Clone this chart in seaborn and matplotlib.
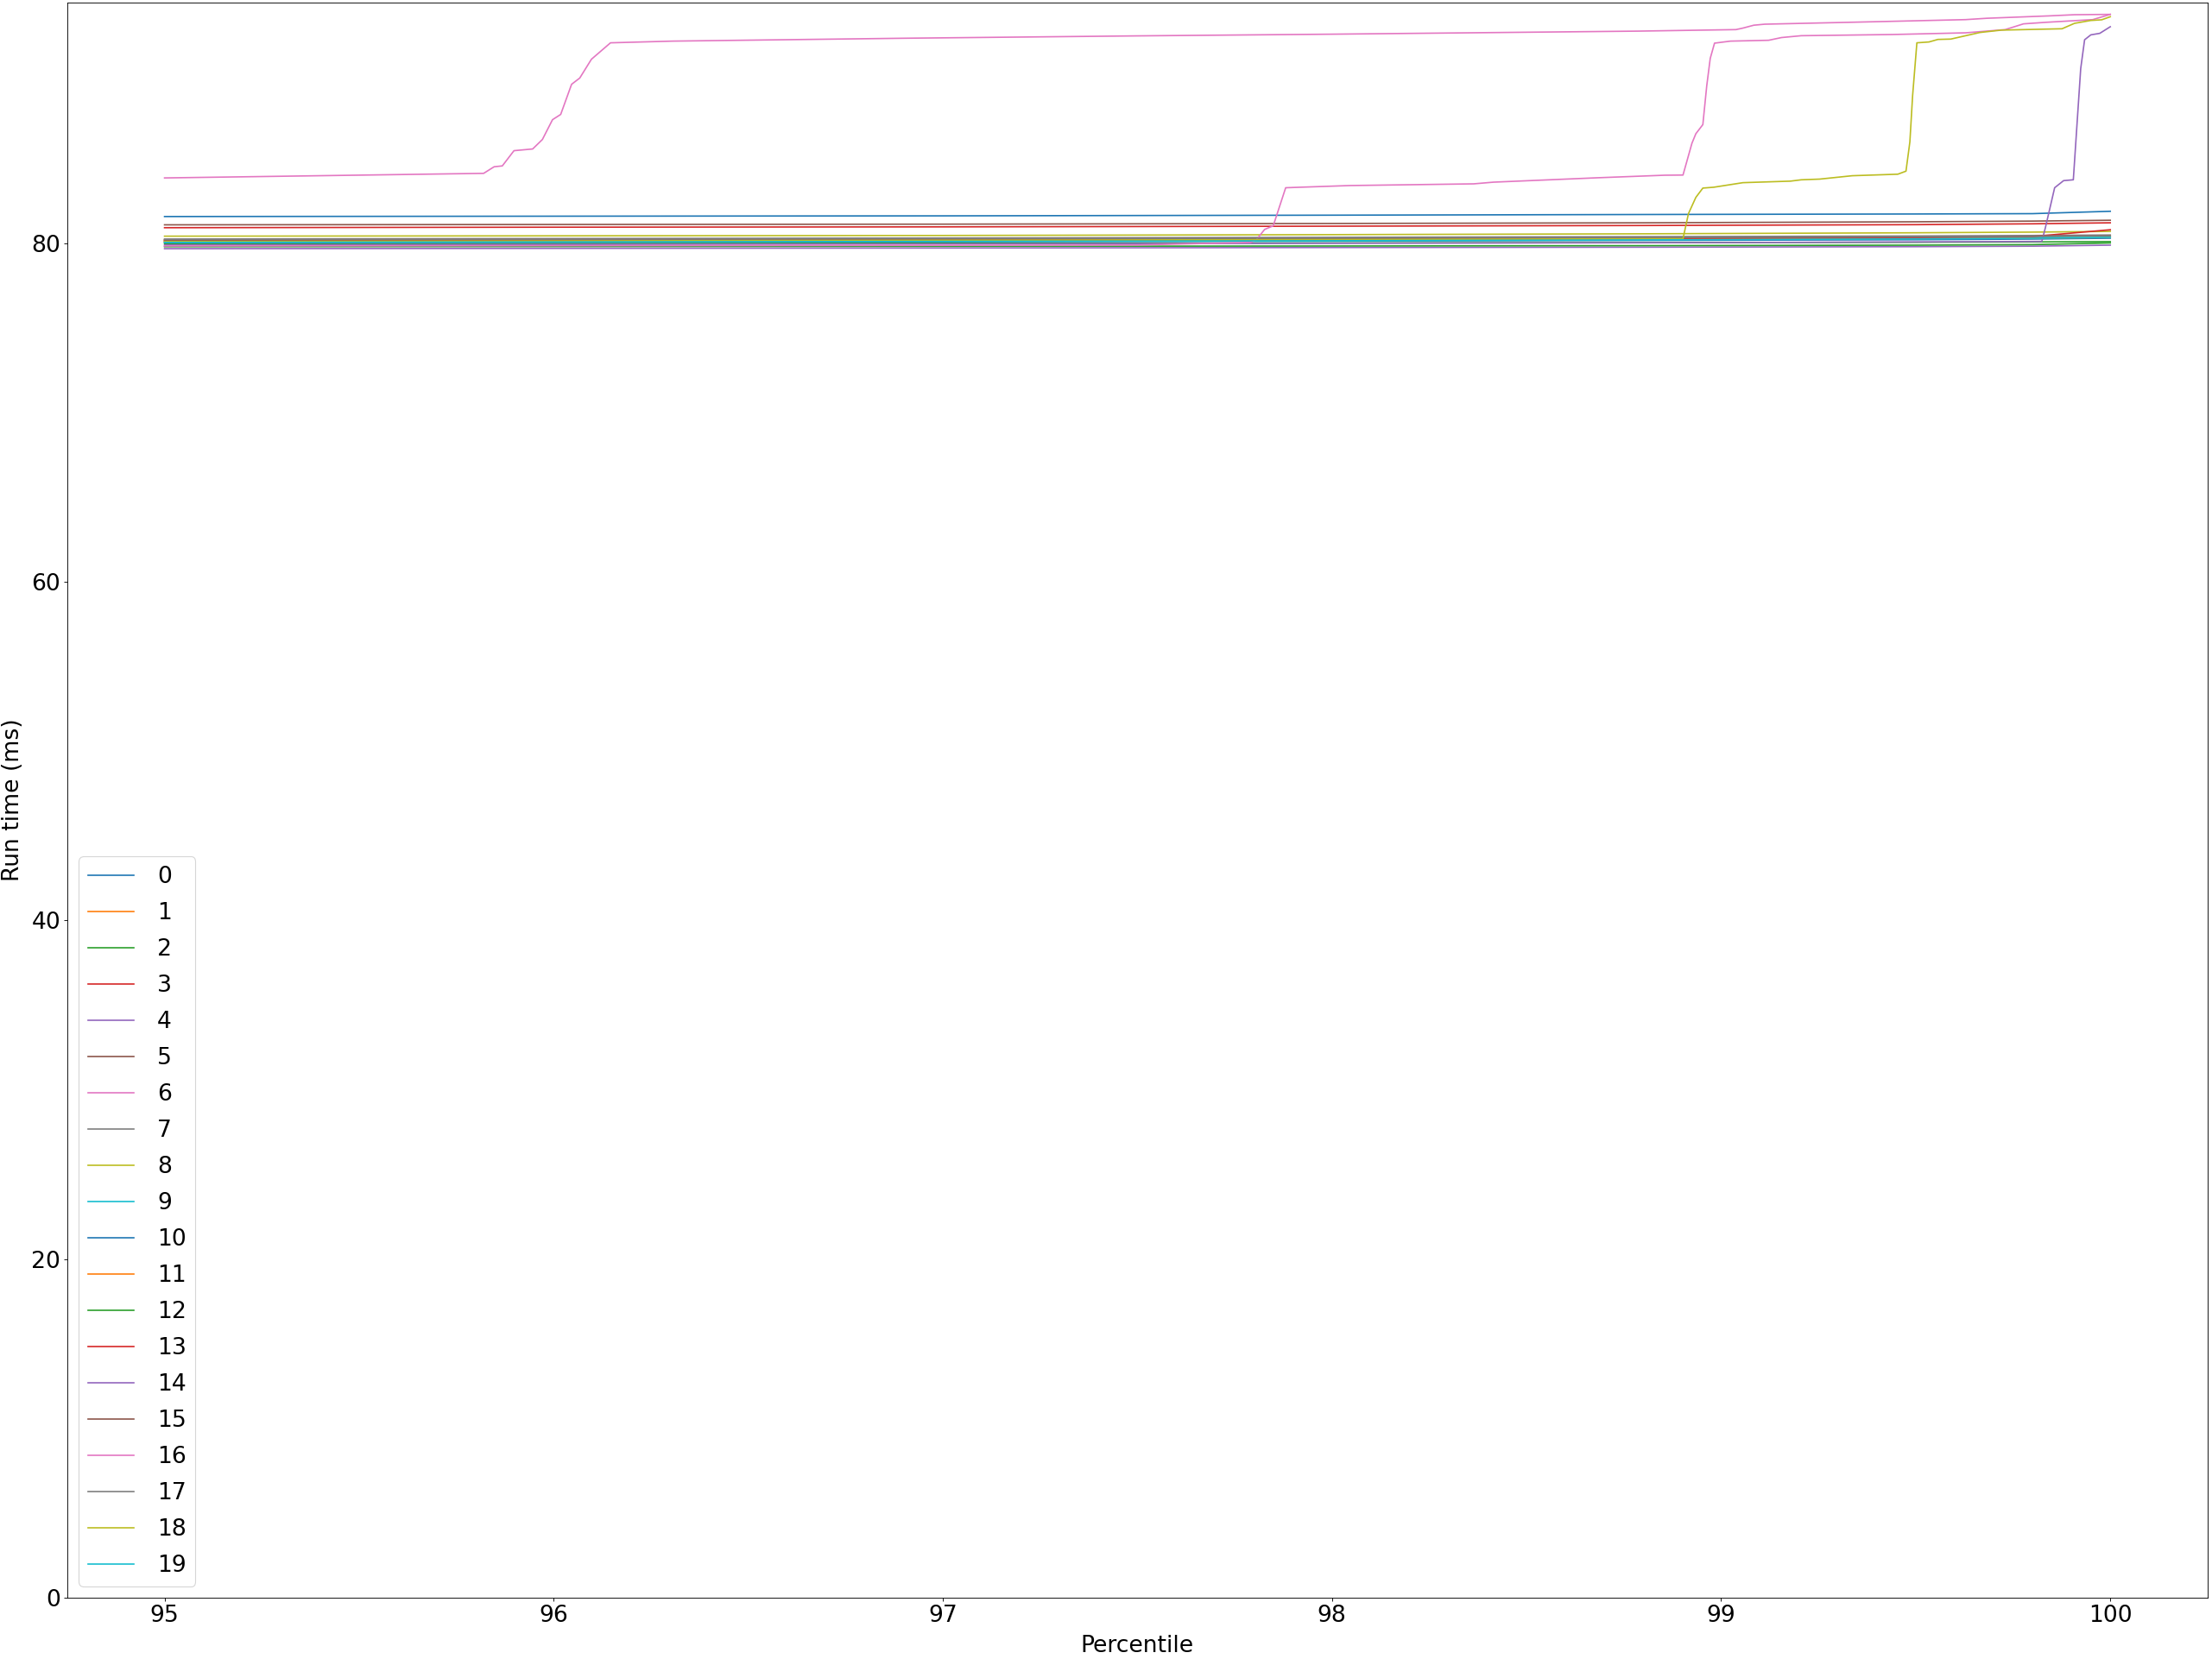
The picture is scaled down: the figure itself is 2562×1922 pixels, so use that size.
import numpy as np
import pandas as pd
import matplotlib
matplotlib.use("Agg")
import matplotlib.pyplot as plt
import seaborn as sns

# ---------------- data ----------------
run_names = [str(i) for i in range(20)]

# shared percentile grid for the (nearly) flat runs
x_flat = [95.0, 96.0, 97.0, 98.0, 98.8, 99.5, 99.8, 100.0]

run_0 = [81.58, 81.60, 81.62, 81.66, 81.70, 81.73, 81.75, 81.89]
run_1 = [80.17, 80.20, 80.24, 80.28, 80.32, 80.34, 80.36, 80.42]
run_2 = [79.98, 79.99, 80.00, 80.02, 80.04, 80.06, 80.08, 80.10]
run_3 = [80.92, 80.95, 80.97, 81.01, 81.05, 81.10, 81.15, 81.21]
run_4 = [79.68, 79.70, 79.72, 79.75, 79.77, 79.80, 79.83, 79.89]
run_5 = [81.09, 81.11, 81.13, 81.17, 81.21, 81.27, 81.31, 81.36]
run_7 = [80.25, 80.28, 80.31, 80.35, 80.39, 80.43, 80.46, 80.49]
run_8 = [80.42, 80.44, 80.46, 80.51, 80.56, 80.62, 80.66, 80.70]
run_9 = [80.09, 80.12, 80.16, 80.21, 80.25, 80.31, 80.35, 80.39]
run_10 = [80.04, 80.06, 80.09, 80.13, 80.17, 80.21, 80.25, 80.30]
run_11 = [80.12, 80.14, 80.17, 80.21, 80.25, 80.28, 80.31, 80.34]
run_12 = [79.80, 79.81, 79.82, 79.84, 79.86, 79.89, 79.92, 80.02]
run_13 = [80.15, 80.18, 80.21, 80.25, 80.29, 80.34, 80.40, 80.80]
run_15 = [80.20, 80.23, 80.26, 80.30, 80.34, 80.38, 80.42, 80.46]
run_17 = [80.22, 80.24, 80.27, 80.31, 80.35, 80.39, 80.42, 80.45]
run_19 = [80.05, 80.08, 80.11, 80.15, 80.20, 80.26, 80.30, 80.35]

# runs with tail jumps (own percentile grids)
x_6 = [95.0, 95.82, 95.847, 95.868, 95.898, 95.946, 95.971, 95.997, 96.018, 96.046,
       96.067, 96.097, 96.146, 96.305, 96.9, 97.5, 98.0, 98.785, 99.038, 99.056,
       99.084, 99.112, 99.346, 99.628, 99.683, 99.842, 99.908, 100.0]
run_6 = [83.86, 84.13, 84.52, 84.57, 85.47, 85.57, 86.13, 87.30, 87.61, 89.39,
         89.76, 90.87, 91.84, 91.94, 92.11, 92.25, 92.35, 92.53, 92.62, 92.71,
         92.88, 92.94, 93.06, 93.21, 93.29, 93.43, 93.50, 93.52]

x_16 = [95.0, 96.0, 97.0, 97.5, 97.791, 97.806, 97.827, 97.849, 97.881, 97.918,
        98.046, 98.364, 98.415, 98.683, 98.855, 98.902, 98.925, 98.935, 98.953, 98.963,
        98.972, 98.983, 99.024, 99.122, 99.155, 99.206, 99.44, 99.628, 99.73, 99.777,
        99.834, 99.955, 100.0]
run_16 = [79.84, 79.86, 79.88, 79.90, 80.05, 80.22, 80.82, 81.03, 83.28, 83.31,
          83.41, 83.51, 83.61, 83.87, 84.02, 84.03, 85.91, 86.47, 87.01, 89.30,
          90.92, 91.82, 91.94, 91.99, 92.15, 92.26, 92.33, 92.43, 92.62, 92.96,
          93.05, 93.21, 93.52]

x_18 = [95.0, 96.0, 97.0, 98.0, 98.902, 98.916, 98.935, 98.953, 98.981, 99.056,
        99.178, 99.206, 99.253, 99.337, 99.454, 99.475, 99.485, 99.492, 99.503, 99.534,
        99.557, 99.59, 99.665, 99.72, 99.876, 99.908, 99.95, 99.978, 100.0]
run_18 = [80.10, 80.14, 80.18, 80.22, 80.27, 81.75, 82.71, 83.26, 83.31, 83.58,
          83.67, 83.75, 83.79, 83.99, 84.08, 84.26, 85.99, 88.71, 91.84, 91.89,
          92.04, 92.06, 92.45, 92.59, 92.67, 92.99, 93.16, 93.20, 93.38]

x_14 = [95.0, 96.0, 97.0, 98.0, 99.0, 99.5, 99.824, 99.833, 99.857, 99.880,
        99.905, 99.924, 99.934, 99.95, 99.973, 100.0]
run_14 = [79.90, 79.93, 79.96, 80.00, 80.04, 80.08, 80.11, 80.90, 83.28, 83.70,
          83.75, 90.32, 92.02, 92.31, 92.40, 92.79]

series = {
    "0": (x_flat, run_0), "1": (x_flat, run_1), "2": (x_flat, run_2),
    "3": (x_flat, run_3), "4": (x_flat, run_4), "5": (x_flat, run_5),
    "6": (x_6, run_6), "7": (x_flat, run_7), "8": (x_flat, run_8),
    "9": (x_flat, run_9), "10": (x_flat, run_10), "11": (x_flat, run_11),
    "12": (x_flat, run_12), "13": (x_flat, run_13), "14": (x_14, run_14),
    "15": (x_flat, run_15), "16": (x_16, run_16), "17": (x_flat, run_17),
    "18": (x_18, run_18), "19": (x_flat, run_19),
}

rows = []
for name in run_names:
    xs, ys = series[name]
    for xv, yv in zip(xs, ys):
        rows.append({"Percentile": xv, "Run time (ms)": yv, "run": name})
df = pd.DataFrame(rows)

# ---------------- plot ----------------
plt.rcParams["font.size"] = 24
plt.rcParams["font.family"] = ["DejaVu Sans"]

DPI = 80
fig = plt.figure(figsize=(2562 / DPI, 1922 / DPI), dpi=DPI)
ax = fig.add_axes([0.0304, 0.0369, 0.998 - 0.0304, 0.9984 - 0.0369])

tab10 = sns.color_palette("tab10")
palette = [tab10[i % 10] for i in range(20)]

sns.lineplot(data=df, x="Percentile", y="Run time (ms)", hue="run",
             hue_order=run_names, palette=palette, estimator=None,
             linewidth=1.5, ax=ax)

ax.set_ylim(bottom=0)
ax.set_xlabel("Percentile", labelpad=8)
ax.set_ylabel("Run time (ms)", labelpad=7)
handles, labels = ax.get_legend_handles_labels()
ax.legend(handles, labels, loc="lower left", labelspacing=0.6, handletextpad=1.0)

fig.savefig("out.png", dpi=DPI)
